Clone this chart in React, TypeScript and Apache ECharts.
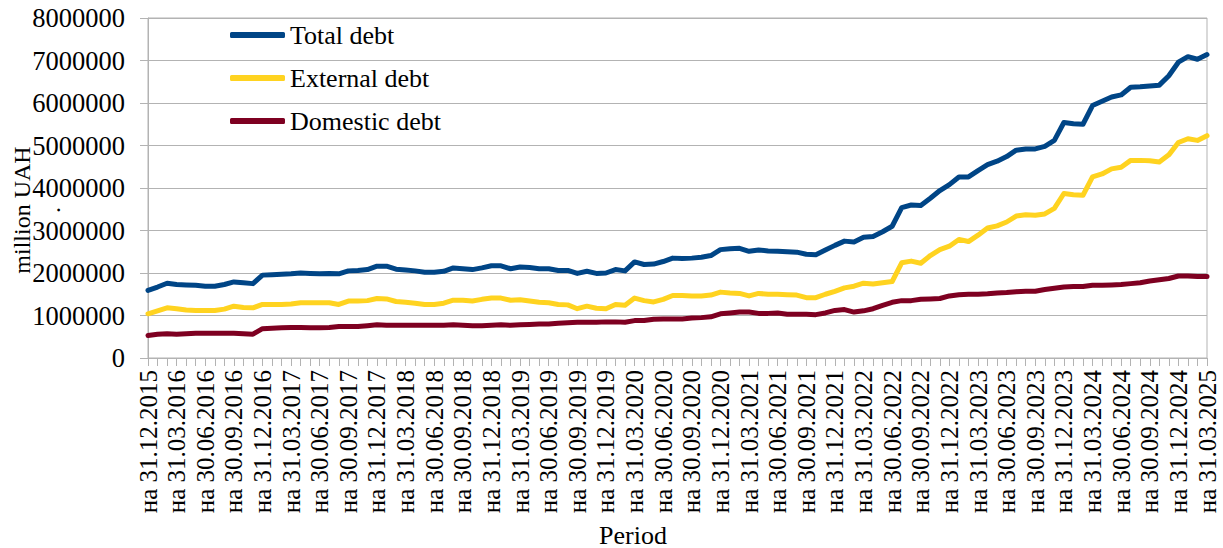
import { useEffect, useRef } from "react";
import * as echarts from "echarts";

// Month-end reporting dates, December 2015 to March 2025
const FIRST_YEAR = 2015;
const FIRST_MONTH = 11; // December (0-based)
const PERIOD_COUNT = 112;

const pad2 = (n: number) => (n < 10 ? "0" + n : String(n));
const periods: string[] = Array.from({ length: PERIOD_COUNT }, (_, k) => {
  const y = FIRST_YEAR + Math.floor((FIRST_MONTH + k) / 12);
  const m = (FIRST_MONTH + k) % 12;
  const lastDay = new Date(Date.UTC(y, m + 1, 0)).getUTCDate();
  return `на ${pad2(lastDay)}.${pad2(m + 1)}.${y}`;
});

// State debt, million UAH
const totalDebt = [
  1590000, 1670000, 1760000, 1730000, 1720000, 1710000, 1690000, 1690000, 1730000, 1790000,
  1770000, 1750000, 1950000, 1960000, 1970000, 1980000, 2000000, 1990000, 1980000, 1990000,
  1980000, 2050000, 2060000, 2080000, 2160000, 2160000, 2090000, 2070000, 2050000, 2020000,
  2020000, 2040000, 2120000, 2100000, 2080000, 2120000, 2170000, 2170000, 2100000, 2140000,
  2130000, 2100000, 2100000, 2060000, 2060000, 1990000, 2040000, 1990000, 2000000, 2080000,
  2050000, 2260000, 2200000, 2210000, 2270000, 2350000, 2340000, 2350000, 2370000, 2410000,
  2550000, 2570000, 2580000, 2510000, 2540000, 2520000, 2510000, 2500000, 2490000, 2440000,
  2430000, 2540000, 2650000, 2750000, 2730000, 2840000, 2860000, 2970000, 3100000, 3540000,
  3600000, 3590000, 3760000, 3940000, 4080000, 4260000, 4260000, 4410000, 4550000, 4630000,
  4740000, 4890000, 4920000, 4920000, 4980000, 5120000, 5540000, 5510000, 5500000, 5940000,
  6040000, 6140000, 6190000, 6370000, 6380000, 6400000, 6420000, 6640000, 6960000, 7090000,
  7030000, 7140000,
];

const externalDebt = [
  1040000, 1110000, 1180000, 1160000, 1130000, 1120000, 1120000, 1120000, 1150000, 1220000,
  1190000, 1180000, 1260000, 1260000, 1260000, 1270000, 1300000, 1300000, 1300000, 1300000,
  1260000, 1340000, 1340000, 1350000, 1400000, 1390000, 1330000, 1310000, 1290000, 1260000,
  1260000, 1290000, 1360000, 1360000, 1340000, 1380000, 1410000, 1410000, 1360000, 1370000,
  1340000, 1310000, 1300000, 1260000, 1250000, 1160000, 1220000, 1170000, 1160000, 1260000,
  1240000, 1410000, 1350000, 1320000, 1380000, 1470000, 1470000, 1460000, 1460000, 1480000,
  1550000, 1530000, 1520000, 1460000, 1520000, 1500000, 1500000, 1490000, 1480000, 1420000,
  1420000, 1500000, 1570000, 1650000, 1690000, 1760000, 1740000, 1770000, 1800000, 2240000,
  2280000, 2230000, 2410000, 2550000, 2630000, 2790000, 2740000, 2890000, 3060000, 3110000,
  3200000, 3340000, 3370000, 3360000, 3390000, 3520000, 3870000, 3840000, 3830000, 4260000,
  4330000, 4450000, 4490000, 4650000, 4650000, 4640000, 4610000, 4780000, 5070000, 5160000,
  5120000, 5230000,
];

const domesticDebt = [
  530000, 560000, 570000, 560000, 570000, 580000, 580000, 580000, 580000, 580000,
  570000, 560000, 690000, 700000, 710000, 720000, 720000, 710000, 710000, 720000,
  740000, 740000, 740000, 760000, 780000, 770000, 770000, 770000, 770000, 770000,
  770000, 770000, 780000, 770000, 760000, 760000, 770000, 780000, 770000, 780000,
  790000, 800000, 800000, 820000, 830000, 840000, 840000, 840000, 850000, 850000,
  840000, 880000, 880000, 910000, 920000, 920000, 920000, 940000, 950000, 970000,
  1040000, 1060000, 1080000, 1080000, 1050000, 1050000, 1060000, 1030000, 1030000, 1030000,
  1020000, 1060000, 1120000, 1140000, 1080000, 1110000, 1160000, 1240000, 1310000, 1350000,
  1350000, 1380000, 1390000, 1400000, 1460000, 1490000, 1500000, 1500000, 1510000, 1530000,
  1540000, 1560000, 1570000, 1570000, 1610000, 1640000, 1670000, 1680000, 1680000, 1710000,
  1710000, 1720000, 1730000, 1750000, 1770000, 1810000, 1840000, 1870000, 1930000, 1930000,
  1920000, 1920000,
];

const seriesNames = ["Total debt", "External debt", "Domestic debt"];
const seriesColors = ["#004586", "#ffd320", "#7e0021"];
const seriesData = [totalDebt, externalDebt, domesticDebt];

const FONT = "Liberation Serif";
const AXIS_GREY = "#b3b3b3";

export default function App() {
  const ref = useRef<HTMLDivElement>(null);

  useEffect(() => {
    if (!ref.current) return;
    const chart = echarts.init(ref.current, undefined, { renderer: "svg" });
    chart.setOption({
      animation: false,
      backgroundColor: "#ffffff",
      textStyle: { fontFamily: FONT, color: "#000" },
      grid: {
        left: 148,
        right: 16,
        top: 18,
        bottom: 190,
        containLabel: false,
        outerBoundsMode: "none",
        show: true,
        borderColor: AXIS_GREY,
        borderWidth: 1,
      },
      legend: {
        data: seriesNames,
        orient: "vertical",
        left: 230,
        top: 22,
        padding: 0,
        itemWidth: 55,
        itemHeight: 6,
        itemGap: 17,
        icon: "roundRect",
        textStyle: { fontFamily: FONT, fontSize: 26, color: "#000" },
      },
      // x-axis title, centred under the chart area
      graphic: [
        {
          type: "text",
          x: 633,
          y: 535,
          style: {
            text: "Period",
            fontFamily: FONT,
            fontSize: 26,
            fill: "#000",
            align: "center",
            verticalAlign: "middle",
          },
        },
      ],
      xAxis: {
        type: "category",
        data: periods,
        boundaryGap: false,
        axisLine: { lineStyle: { color: AXIS_GREY, width: 1 } },
        axisTick: { show: true, interval: 0, length: 8, lineStyle: { color: AXIS_GREY } },
        axisLabel: {
          interval: 2,
          rotate: 90,
          margin: 12,
          fontFamily: FONT,
          fontSize: 25,
          color: "#000",
        },
        splitLine: { show: false },
      },
      yAxis: {
        type: "value",
        min: 0,
        max: 8000000,
        interval: 1000000,
        name: "million UAH\n.",
        nameLocation: "middle",
        nameRotate: 90,
        nameGap: 81,
        nameMoveOverlap: false,
        nameTextStyle: {
          fontFamily: FONT,
          fontSize: 24,
          lineHeight: 30,
          color: "#000",
          padding: [0, 44, 0, 0],
        },
        axisLine: { show: true, lineStyle: { color: AXIS_GREY, width: 1 } },
        axisTick: { show: true, length: 8, lineStyle: { color: AXIS_GREY } },
        axisLabel: {
          margin: 23,
          fontFamily: FONT,
          fontSize: 26.5,
          color: "#000",
          formatter: (v: number) => String(v),
        },
        splitLine: { show: true, lineStyle: { color: AXIS_GREY, width: 1 } },
      },
      series: seriesNames.map((name, i) => ({
        name,
        type: "line",
        data: seriesData[i],
        showSymbol: false,
        symbol: "none",
        color: seriesColors[i],
        lineStyle: { width: 5, color: seriesColors[i], cap: "round", join: "round" },
      })),
    });
    return () => chart.dispose();
  }, []);

  return (
    <div
      ref={ref}
      style={{ position: "absolute", left: 0, top: 0, width: 1223, height: 548, background: "#fff" }}
    />
  );
}
